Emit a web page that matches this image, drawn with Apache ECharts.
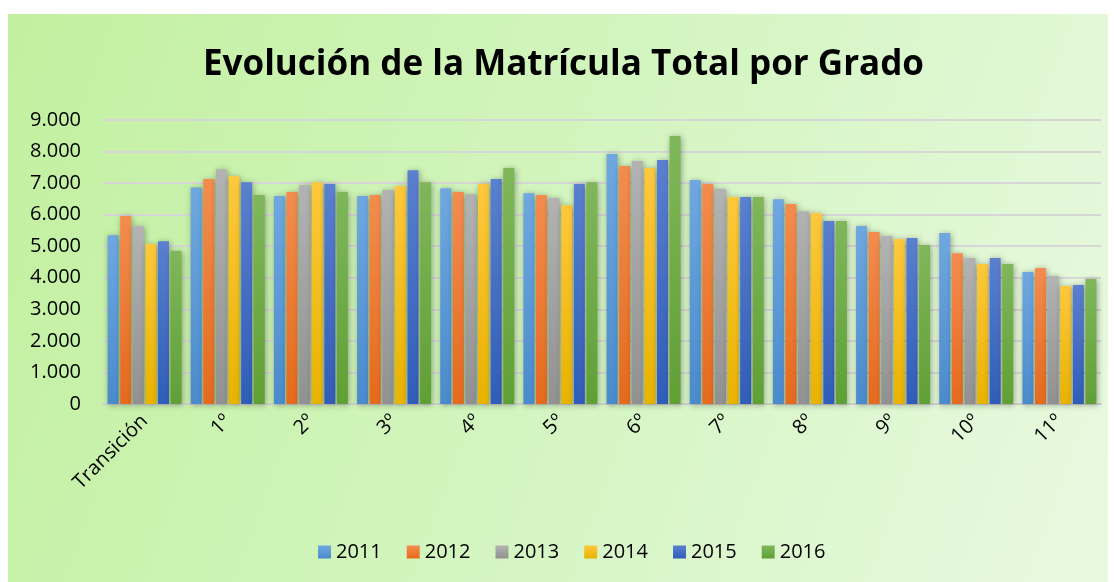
<!DOCTYPE html>
<html>
<head>
<meta charset="utf-8">
<script src="https://cdn.jsdelivr.net/npm/echarts@6/dist/echarts.min.js"></script>
<style>
  html, body { margin: 0; padding: 0; background: #ffffff; }
  #chart {
    position: absolute; left: 8px; top: 14px; width: 1100px; height: 568px;
    background: linear-gradient(110deg, #c2f09f 0%, #d3f5c0 50%, #e9f9e1 100%);
  }
</style>
</head>
<body>
<div id="chart"></div>
<script>
// Grados (categorías)
const grados = ['Transición', '1º', '2º', '3º', '4º', '5º', '6º', '7º', '8º', '9º', '10º', '11º'];
const years = ['2011', '2012', '2013', '2014', '2015', '2016'];
const yTicks = [0, 1000, 2000, 3000, 4000, 5000, 6000, 7000, 8000, 9000];

// Matrícula por año
const m2011 = [5350, 6860, 6590, 6590, 6840, 6680, 7920, 7100, 6490, 5640, 5420, 4180];
const m2012 = [5960, 7130, 6720, 6620, 6720, 6620, 7540, 6970, 6340, 5450, 4780, 4310];
const m2013 = [5640, 7440, 6940, 6780, 6650, 6530, 7700, 6810, 6110, 5320, 4630, 4060];
const m2014 = [5070, 7220, 7030, 6910, 6980, 6300, 7480, 6560, 6050, 5230, 4440, 3740];
const m2015 = [5160, 7030, 6970, 7410, 7130, 6970, 7730, 6560, 5800, 5260, 4630, 3770];
const m2016 = [4850, 6620, 6720, 7030, 7480, 7030, 8490, 6560, 5800, 5040, 4440, 3960];

const seriesData = [m2011, m2012, m2013, m2014, m2015, m2016];
const colors = [
    ['#6fa8e0', '#4a8bcc'],
    ['#f48c4f', '#e56a1c'],
    ['#b3b3b3', '#919191'],
    ['#ffc83d', '#e8b300'],
    ['#5a80cf', '#2f5db8'],
    ['#7fb75a', '#5fa035']
];
const legendColors = ['#5b9bd5', '#ed7d31', '#a5a5a5', '#ffc000', '#4472c4', '#70ad47'];

const chart = echarts.init(document.getElementById('chart'));

const fmt = v => v === 0 ? '0' : (v / 1000).toFixed(0) + '.' + String(v % 1000).padStart(3, '0');

const option = {
    backgroundColor: 'transparent',
    color: legendColors,
    title: {
        text: 'Evolución de la Matrícula Total por Grado',
        left: 190,
        top: 29,
        textStyle: {
            fontFamily: 'Open Sans',
            fontWeight: 'bold',
            fontSize: 35,
            color: '#000000'
        }
    },
    legend: {
        data: years,
        bottom: 15,
        left: 305,
        itemWidth: 13,
        itemHeight: 13,
        itemGap: 25,
        icon: 'rect',
        textStyle: { fontFamily: 'Open Sans', fontSize: 20, color: '#000000' }
    },
    grid: {
        left: 95,
        right: 7,
        top: 106,
        bottom: 178
    },
    xAxis: {
        type: 'category',
        data: grados,
        axisTick: { show: false },
        axisLine: { lineStyle: { color: '#d0d0d0', width: 2 } },
        axisLabel: {
            rotate: 45,
            interval: 0,
            margin: 14,
            fontFamily: 'Open Sans',
            fontSize: 20,
            color: '#000000'
        }
    },
    yAxis: {
        type: 'value',
        min: 0,
        max: 9000,
        interval: 1000,
        axisLine: { show: false },
        axisTick: { show: false },
        axisLabel: {
            margin: 22,
            fontFamily: 'Open Sans',
            fontSize: 20,
            color: '#000000',
            formatter: v => yTicks.includes(v) ? fmt(v) : ''
        },
        splitLine: { lineStyle: { color: '#d6d6d6', width: 2 } }
    },
    series: seriesData.map((d, i) => ({
        name: years[i],
        type: 'bar',
        data: d,
        barGap: '15%',
        barCategoryGap: '11%',
        itemStyle: {
            color: new echarts.graphic.LinearGradient(0, 0, 0, 1, [
                { offset: 0, color: colors[i][0] },
                { offset: 1, color: colors[i][1] }
            ]),
            shadowBlur: 6,
            shadowColor: 'rgba(0,0,0,0.35)',
            shadowOffsetX: 1,
            shadowOffsetY: 1
        }
    }))
};

chart.setOption(option);
window.addEventListener('resize', () => chart.resize());
</script>
</body>
</html>
